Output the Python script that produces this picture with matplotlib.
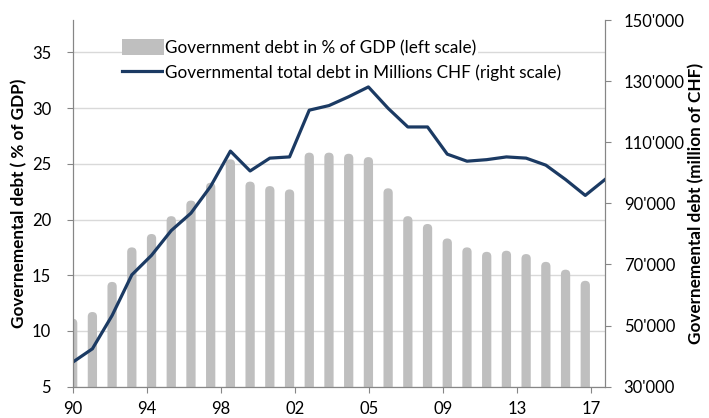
import numpy as np
import matplotlib.pyplot as plt
from matplotlib.patches import FancyBboxPatch

plt.rcParams['font.family'] = ['Lato', 'DejaVu Sans']

# data
years_line = np.arange(1990, 2018)
years_bar = np.arange(1990, 2017)

debt_pct_gdp = [11.1, 11.7, 14.4, 17.5, 18.7, 20.3, 21.7, 23.3, 25.4, 23.4,
                23.0, 22.7, 26.0, 26.0, 25.9, 25.6, 22.8, 20.3, 19.6, 18.3,
                17.5, 17.1, 17.2, 16.9, 16.2, 15.5, 14.5]

debt_mchf = [38000, 42400, 53300, 66600, 73000, 81100, 86800, 95600, 107100, 100600,
             104800, 105200, 120500, 122000, 124900, 128100, 121100, 115000, 115000, 106100,
             103800, 104300, 105200, 104800, 102500, 97800, 92600, 97800]

tick_labels = ['90', '94', '98', '02', '05', '09', '13', '17']

left_ticks = [5, 10, 15, 20, 25, 30, 35]
right_ticks = [30000, 50000, 70000, 90000, 110000, 130000, 150000]

gray_axis = '#868686'
navy = '#1b3a63'
bar_gray = '#bfbfbf'

fig = plt.figure(figsize=(7.09, 4.18), dpi=100)
ax = fig.add_axes([0.1025, 0.0749, 0.7508, 0.8772])
ax2 = ax.twinx()

ax.set_ylim(5, 37.9)
ax.set_xlim(1990, 2017)

bars = ax.bar(years_bar, debt_pct_gdp, width=0.47, bottom=0, color=bar_gray,
              label='Government debt in % of GDP (left scale)', zorder=2)
# excel style rounded tops
r = 0.235
for p in bars.patches:
    p.set_visible(False)
    x0, y0 = p.get_xy()
    ax.add_patch(FancyBboxPatch((x0, y0), p.get_width(), p.get_height(),
                                boxstyle=f'round,pad=0,rounding_size={r}',
                                mutation_aspect=1.76, facecolor=bar_gray,
                                edgecolor='none', zorder=2))

ax.set_yticks(left_ticks)
ax.yaxis.grid(True, color='#d9d9d9', linewidth=1)
ax.set_axisbelow(True)

ax2.plot(years_line, debt_mchf, color=navy, linewidth=2.3,
         label='Governmental total debt in Millions CHF (right scale)')
ax2.set_ylim(30000, 150000)
ax2.set_yticks(right_ticks)
ax2.set_yticklabels([f"{v // 1000}'000" for v in right_ticks])

ax.set_xticks(1990 + np.arange(8) * 3.754)
ax.set_xticklabels(tick_labels)

for a in (ax, ax2):
    a.spines['top'].set_visible(False)
    for s in ('left', 'right', 'bottom'):
        a.spines[s].set_color(gray_axis)
    a.tick_params(colors=gray_axis, labelcolor='black', labelsize=12)

ax.tick_params(axis='y', length=4.5, pad=11)
ax.tick_params(axis='x', length=4, pad=6)
ax2.tick_params(axis='y', length=4.5, pad=9)

ax.set_ylabel('Governemental debt ( % of GDP)', fontsize=12.3, fontweight='bold', labelpad=3)
ax2.set_ylabel('Governemental debt (million of CHF)', fontsize=12.3, fontweight='bold', labelpad=2)

h1, l1 = ax.get_legend_handles_labels()
h2, l2 = ax2.get_legend_handles_labels()
h1 = [plt.Rectangle((0, 0), 1, 1, facecolor=bar_gray, edgecolor='none')]
leg = ax2.legend(h1 + h2, l1 + l2, loc='upper left', bbox_to_anchor=(0.092, 0.947),
                 frameon=False, fontsize=12.3, handlelength=2.5, handleheight=1.05,
                 handletextpad=0.05, labelspacing=0.48, borderaxespad=0, borderpad=0)
for t in leg.get_texts():
    t.set_bbox(dict(facecolor='white', edgecolor='none', pad=1))

fig.savefig('out.png', dpi=100)
